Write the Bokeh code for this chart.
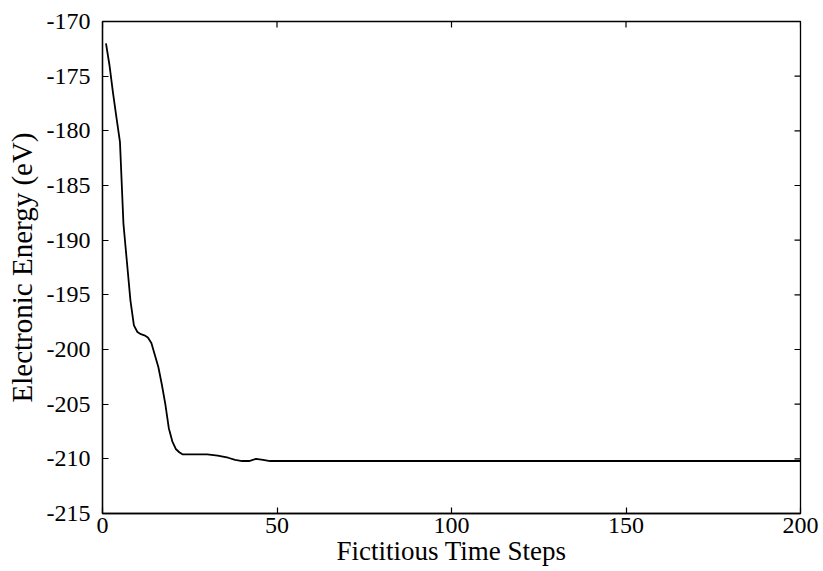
from bokeh.plotting import figure
from bokeh.models import Range1d, FixedTicker
from bokeh.embed import file_html
from bokeh.resources import INLINE

steps = [1, 2, 3, 4, 5, 6, 7, 8, 9, 10, 11, 12, 13, 14, 15, 16, 17, 18, 19, 20,
         21, 22, 23, 25, 30, 33, 36, 38, 40, 42, 44, 46, 48, 60, 100, 150, 200]
energy = [-172.0, -174.0, -176.5, -178.8, -181.0, -188.5, -192.0, -195.5, -197.8, -198.4,
          -198.6, -198.7, -198.9, -199.4, -200.5, -201.6, -203.2, -205.0, -207.2, -208.4,
          -209.1, -209.4, -209.6, -209.6, -209.6, -209.7, -209.9, -210.1, -210.2, -210.2,
          -210.0, -210.1, -210.2, -210.2, -210.2, -210.2, -210.2]
x_ticks = [0, 50, 100, 150, 200]
y_ticks = [-215, -210, -205, -200, -195, -190, -185, -180, -175, -170]

FONT = "Liberation Serif"

p = figure(width=823, height=571, output_backend="svg", toolbar_location=None,
           x_range=Range1d(0, 200), y_range=Range1d(-215, -170),
           min_border_left=102, min_border_right=23, min_border_top=21, min_border_bottom=58)
p.grid.visible = False
p.outline_line_color = "black"
p.outline_line_width = 1.3

p.line(steps, energy, line_color="black", line_width=1.8)

# inward ticks on the top and right edges of the box (MATLAB style)
xlen = 6 / (698 / 200.0)
ylen = 6 / (491 / 45.0)
p.segment(x0=x_ticks, x1=x_ticks, y0=[-170] * len(x_ticks), y1=[-170 - ylen] * len(x_ticks),
          line_color="black", line_width=1.2)
p.segment(x0=[200] * len(y_ticks), x1=[200 - xlen] * len(y_ticks), y0=y_ticks, y1=y_ticks,
          line_color="black", line_width=1.2)

for ax, ticks in ((p.xaxis[0], x_ticks), (p.yaxis[0], y_ticks)):
    ax.ticker = FixedTicker(ticks=ticks)
    ax.major_label_overrides = {t: str(t) for t in ticks}
    ax.major_tick_in = 6
    ax.major_tick_out = 0
    ax.minor_tick_line_color = None
    ax.axis_line_color = "black"
    ax.axis_line_width = 1.3
    ax.major_tick_line_color = "black"
    ax.major_tick_line_width = 1.2
    ax.major_label_text_font = FONT
    ax.major_label_text_color = "black"
    ax.major_label_text_font_size = "24px"
    ax.axis_label_text_font = FONT
    ax.axis_label_text_font_style = "normal"
    ax.axis_label_text_color = "black"

p.xaxis[0].major_label_standoff = 4
p.yaxis[0].major_label_standoff = 12
p.xaxis[0].axis_label = "Fictitious Time Steps"
p.yaxis[0].axis_label = "Electronic Energy (eV)"
p.xaxis[0].axis_label_text_font_size = "27px"
p.yaxis[0].axis_label_text_font_size = "29px"
p.xaxis[0].axis_label_standoff = 0
p.yaxis[0].axis_label_standoff = 6

open("out.html", "w").write(file_html(p, INLINE))
